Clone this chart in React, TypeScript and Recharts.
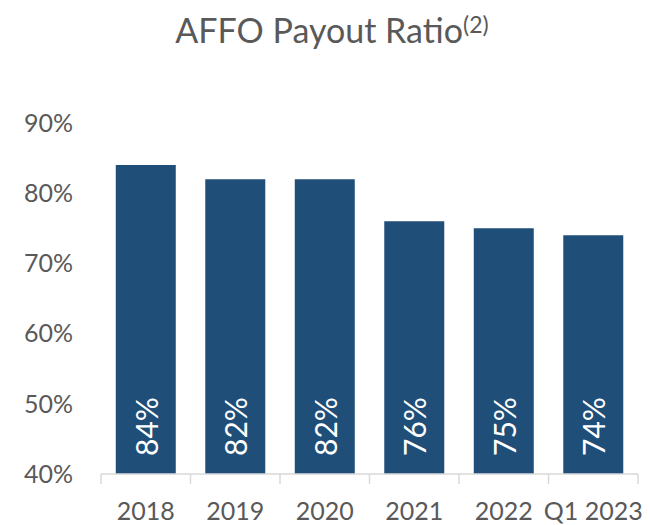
import React from "react";
import { BarChart, Bar, XAxis, YAxis, LabelList } from "recharts";

const categories = ["2018", "2019", "2020", "2021", "2022", "Q1 2023"];
const payoutRatio = [84, 82, 82, 76, 75, 74];
const yTicks = [40, 50, 60, 70, 80, 90];

const data = categories.map((c, i) => ({ name: c, value: payoutRatio[i] }));

const CHART_W = 650;
const CHART_H = 525;
const MARGIN = { top: 123, right: 12, left: 0, bottom: 0 };
const Y_W = 101;
const X_H = 51;
const FONT = "Lato, 'Open Sans', sans-serif";
const GRAY = "#595959";
const BAR = "#1F4E79";

const plotW = CHART_W - MARGIN.left - MARGIN.right - Y_W;
const band = plotW / categories.length;
const TICK_MARGIN = 28;

const XTick = (props: any) => {
  const { x, y, payload, index } = props;
  const axisY = y - TICK_MARGIN;
  const left = x - band / 2;
  const right = x + band / 2;
  return (
    <g>
      <line x1={left} x2={left} y1={axisY} y2={axisY + 10} stroke="#d9d9d9" strokeWidth={1.5} />
      {index === categories.length - 1 && (
        <line x1={right} x2={right} y1={axisY} y2={axisY + 10} stroke="#d9d9d9" strokeWidth={1.5} />
      )}
      <text x={x} y={y} dy="0.71em" textAnchor="middle" fill={GRAY} fontSize={25} fontFamily={FONT}>
        {payload.value}
      </text>
    </g>
  );
};

const BarLabel = (props: any) => {
  const { x, y, width, height, value } = props;
  const cx = x + width / 2;
  const by = y + height - 18;
  return (
    <text
      x={cx}
      y={by}
      transform={`rotate(-90, ${cx}, ${by})`}
      textAnchor="start"
      dominantBaseline="central"
      fill="#ffffff"
      fontSize={30}
      fontFamily={FONT}
    >
      {`${value}%`}
    </text>
  );
};

export default function App() {
  return (
    <div style={{ position: "absolute", left: 0, top: 0, width: CHART_W, height: CHART_H, background: "#fff" }}>
      <div
        style={{
          position: "absolute",
          left: 0,
          top: 4,
          width: CHART_W,
          paddingLeft: 14,
          boxSizing: "border-box",
          textAlign: "center",
          fontFamily: FONT,
          fontSize: 34,
          lineHeight: "41px",
          color: GRAY,
          whiteSpace: "nowrap",
        }}
      >
        AFFO Payout Ratio
        <span style={{ fontSize: 23, verticalAlign: "10px" }}>(2)</span>
      </div>
      <BarChart width={CHART_W} height={CHART_H} data={data} margin={MARGIN} barCategoryGap="16.5%">
        <XAxis
          dataKey="name"
          height={X_H}
          axisLine={{ stroke: "#d9d9d9", strokeWidth: 1.5 }}
          tickLine={false}
          tickSize={0}
          tickMargin={TICK_MARGIN}
          interval={0}
          tick={<XTick />}
        />
        <YAxis
          width={Y_W}
          domain={[40, 90]}
          ticks={yTicks}
          axisLine={false}
          tickLine={false}
          tickSize={0}
          tickMargin={28}
          tickFormatter={(v: number) => `${v}%`}
          tick={{ fill: GRAY, fontSize: 25, fontFamily: FONT }}
          allowDataOverflow
        />
        <Bar dataKey="value" fill={BAR} isAnimationActive={false}>
          <LabelList dataKey="value" content={<BarLabel />} />
        </Bar>
      </BarChart>
    </div>
  );
}
